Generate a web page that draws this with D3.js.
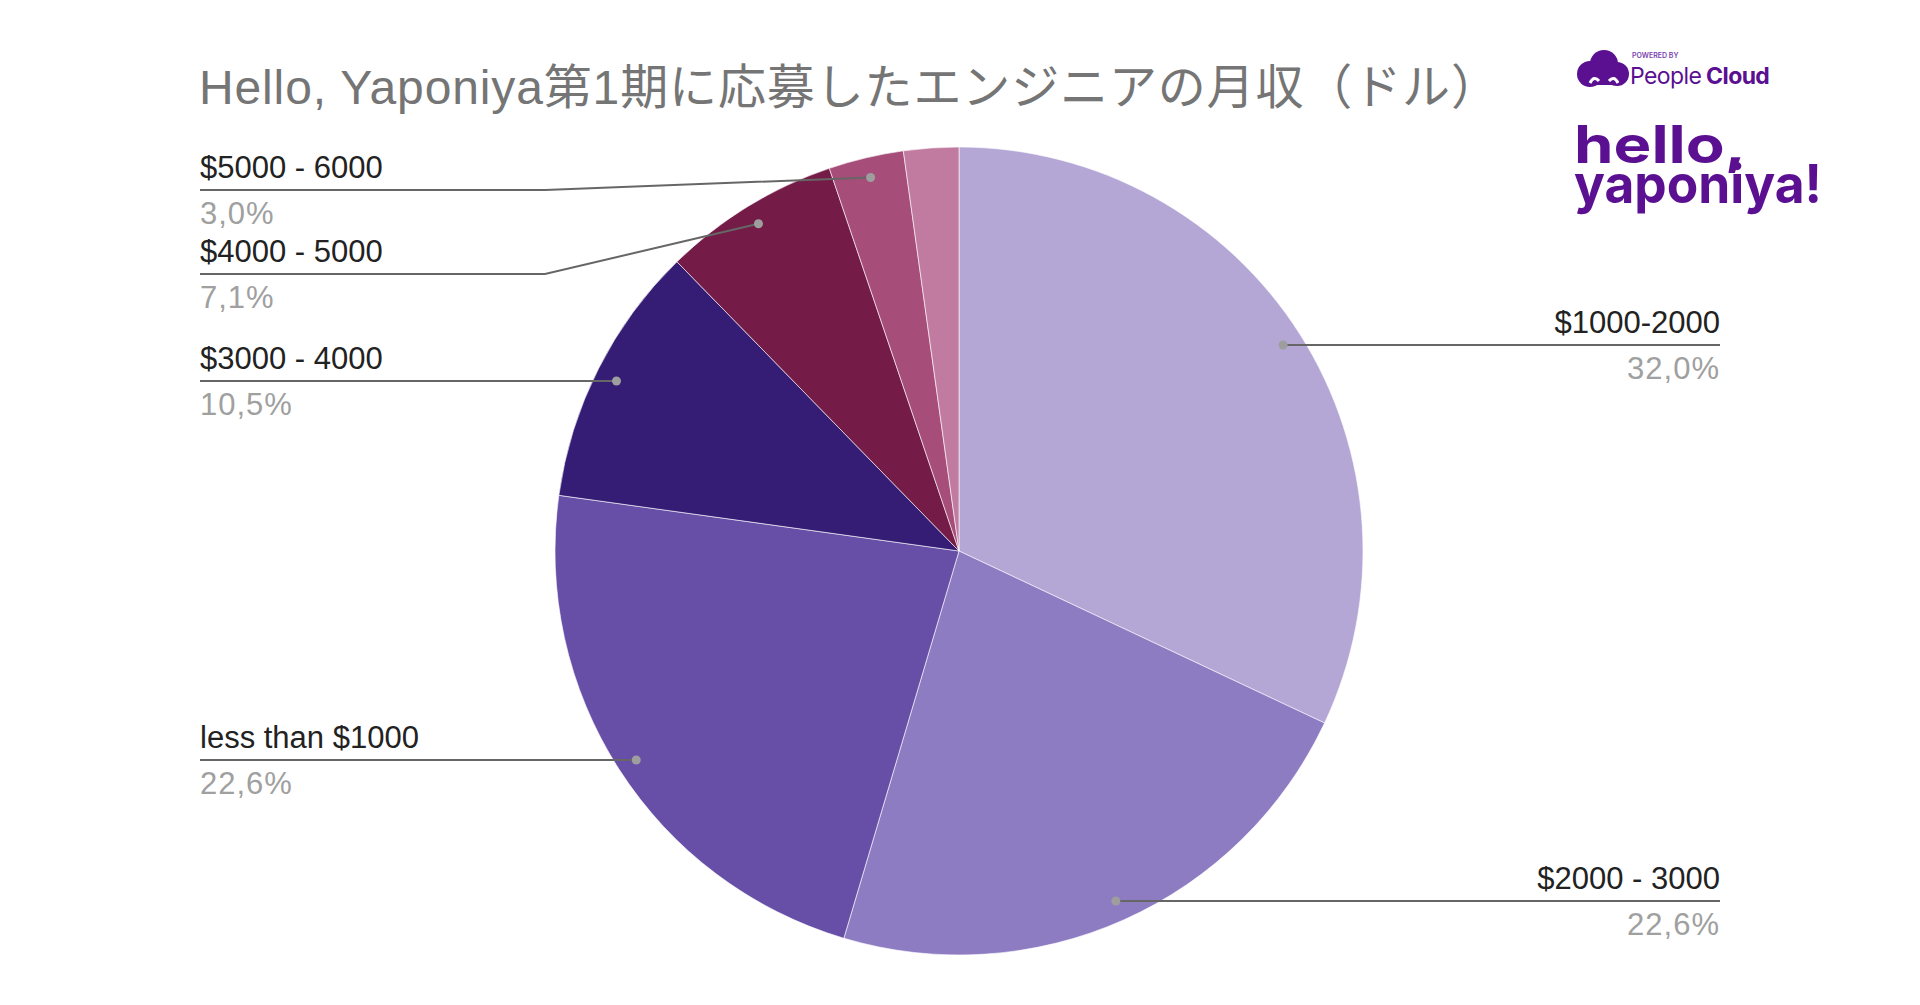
<!DOCTYPE html>
<html><head><meta charset="utf-8">
<script src="https://cdn.jsdelivr.net/npm/d3@7"></script>
<style>body{margin:0;background:#fff}svg{display:block}</style>
</head><body>
<script>
const title = "Hello, Yaponiya第1期に応募したエンジニアの月収（ドル）";
const categories = ["$1000-2000", "$2000 - 3000", "less than $1000", "$3000 - 4000", "$4000 - 5000", "$5000 - 6000", "more than $6000"];
const values = [32.0, 22.6, 22.6, 10.5, 7.1, 3.0, 2.2];
const percentLabels = ["32,0%", "22,6%", "22,6%", "10,5%", "7,1%", "3,0%", ""];
const colors = ["#b4a7d6", "#8e7cc3", "#674ea7", "#351c75", "#741b47", "#a64d79", "#c27ba0"];

const W = 1920, H = 1005;
const svg = d3.select("body").append("svg").attr("width", W).attr("height", H);
const cx = 959, cy = 551, R = 404;

svg.append("text").attr("x", 199).attr("y", 104).attr("fill", "#757575")
  .style("font-family", "'Liberation Sans', 'Noto Sans CJK JP', sans-serif").style("font-size", "48px")
  .attr("textLength", 1300).attr("lengthAdjust", "spacing").text(title);

const pie = d3.pie().sort(null).value(d => d)(values);
const arc = d3.arc().innerRadius(0).outerRadius(R);
const g = svg.append("g").attr("transform", `translate(${cx},${cy})`);
g.selectAll("path").data(pie).join("path").attr("d", arc).attr("fill", (d, i) => colors[i])
  .attr("stroke", "#fff").attr("stroke-width", 0.6);

const layout = [
  ["r", 345, null], ["r", 901, null], ["l", 760, null], ["l", 381, null],
  ["l", 274, 545], ["l", 190, 545], null
];
const font = "'Liberation Sans', Arial, sans-serif";
pie.forEach((d, i) => {
  const L = layout[i]; if (!L) return;
  const a = (d.startAngle + d.endAngle) / 2;
  const px = cx + Math.sin(a) * R * 0.95, py = cy - Math.cos(a) * R * 0.95;
  const [side, ly, ex] = L;
  const endX = side === "r" ? 1720 : 200;
  let pts = ex ? [[endX, ly], [ex, ly], [px, py]] : [[endX, ly], [px, ly]];
  svg.append("path").attr("d", d3.line()(pts)).attr("fill", "none").attr("stroke", "#666").attr("stroke-width", 2);
  svg.append("circle").attr("cx", pts[pts.length-1][0]).attr("cy", pts[pts.length-1][1]).attr("r", 4.5).attr("fill", "#9e9e9e");
  const anchor = side === "r" ? "end" : "start";
  svg.append("text").attr("x", endX).attr("y", ly - 12).attr("text-anchor", anchor).attr("fill", "#222")
    .style("font-family", font).style("font-size", "31px").text(categories[i]);
  svg.append("text").attr("x", endX).attr("y", ly + 34).attr("text-anchor", anchor).attr("fill", "#a0a0a0")
    .style("font-family", font).style("font-size", "31px").style("letter-spacing", "1px").text(percentLabels[i]);
});

// logo
const purple = "#5b0f91";
const lg = svg.append("g").attr("fill", purple);
[[1590,74,13],[1604,64,14],[1617,74,12]].forEach(c => lg.append("circle").attr("cx", c[0]).attr("cy", c[1]).attr("r", c[2]));
lg.append("rect").attr("x", 1585).attr("y", 70).attr("width", 30).attr("height", 15);
svg.append("path").attr("d", "M1590,83 q4,-8 9,-2 M1609,81 q5,-6 9,2").attr("stroke", "#fff").attr("stroke-width", 3).attr("fill", "none");
svg.append("text").attr("x", 1632).attr("y", 58).attr("fill", "#7a3fb0").style("font-family", "Inter, sans-serif")
  .style("font-size", "7px").style("font-weight", 600).text("POWERED BY");
const pc = svg.append("text").attr("x", 1630).attr("y", 84).attr("fill", purple).style("font-family", "Inter, sans-serif").style("font-size", "23px").style("letter-spacing", "-0.6px");
pc.append("tspan").style("font-weight", 400).text("People");
pc.append("tspan").style("font-weight", 700).text(" Cloud");
svg.append("text").attr("x", 1574).attr("y", 163).attr("fill", purple).style("font-family", "Inter, sans-serif")
  .style("font-size", "52px").style("font-weight", 700).attr("textLength", 172).attr("lengthAdjust", "spacingAndGlyphs").text("hello,");
svg.append("text").attr("x", 1574).attr("y", 203).attr("fill", purple).style("font-family", "Inter, sans-serif")
  .style("font-size", "54px").style("font-weight", 700).attr("textLength", 248).attr("lengthAdjust", "spacingAndGlyphs").text("yaponiya!");
</script>
</body></html>
